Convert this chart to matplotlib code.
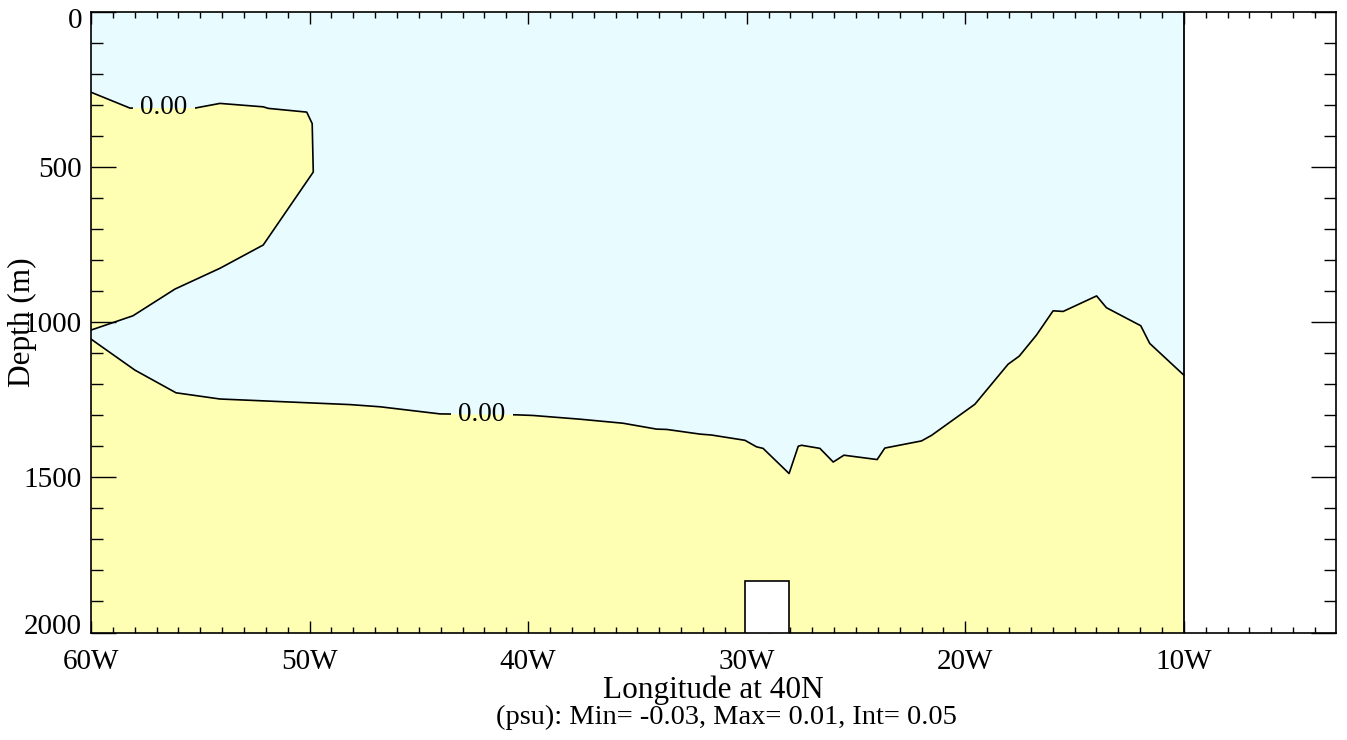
import numpy as np
import matplotlib.pyplot as plt
import matplotlib.transforms as mtrans
from matplotlib.patches import Rectangle

plt.rcParams['font.family'] = ['Liberation Serif', 'DejaVu Serif']

# 0.00 contour, upper-left bulge (from west edge, round, back to west edge)
upper_lon = [-60.0, -58.22, -55.24, -54.10, -52.12, -51.89, -50.13, -49.88, -49.83,
             -52.12, -54.10, -56.16, -58.08, -60.0]
upper_dep = [260, 311, 311, 296, 307, 312, 324, 361, 517,
             752, 827, 894, 980, 1026]

# 0.00 contour, lower line (west to east)
lower_lon = [-60.0, -57.99, -56.11, -54.10, -48.15, -46.78, -44.03, -40.53, -39.78,
             -37.63, -35.66, -34.12, -33.66, -32.14, -31.61, -30.08, -29.55, -29.25,
             -28.06, -27.64, -27.49, -26.65, -26.04, -25.55, -24.03, -23.68, -22.00,
             -21.54, -19.56, -18.04, -17.53, -16.74, -15.98, -15.52, -13.99, -13.54,
             -11.97, -11.56, -10.0]
lower_dep = [1055, 1155, 1228, 1248, 1266, 1273, 1296, 1299, 1301,
             1313, 1326, 1345, 1346, 1361, 1364, 1381, 1402, 1407,
             1488, 1400, 1397, 1407, 1451, 1429, 1443, 1406, 1383,
             1365, 1265, 1136, 1110, 1042, 964, 966, 916, 954,
             1012, 1069, 1171]

data_west, data_east = -60.0, -10.0
max_depth = 2000
topo_lon = [-30.06, -28.07]
topo_top = 1834

label_text = ['0.00', '0.00']
label_lon = [-56.66, -42.11]
label_dep = [310, 1298]
gap_lon = [(-58.10, -55.26), (-43.55, -40.68)]
gap_dep = [(280, 340), (1270, 1330)]

xticks = [-60, -50, -40, -30, -20, -10]
yticks = [0, 500, 1000, 1500, 2000]

yellow = '#ffffb3'
blue = '#e8fcff'

fig = plt.figure(figsize=(13.47, 7.40), dpi=100)
ax = fig.add_axes([91 / 1347, 1 - 632.5 / 740, (1335.7 - 91) / 1347, (632.5 - 11.5) / 740])


def draw_fills(clip=None):
    arts = []
    arts += ax.fill([data_west, data_east, data_east, data_west],
                    [0, 0, max_depth, max_depth], color=yellow, lw=0)
    bx = [data_west, data_east] + lower_lon[::-1] + upper_lon[::-1]
    by = [0, 0] + lower_dep[::-1] + upper_dep[::-1]
    arts += ax.fill(bx, by, color=blue, lw=0)
    if clip is not None:
        for a in arts:
            a.set_clip_path(clip)
            a.set_zorder(3)
    return arts


draw_fills()

# contour lines
ax.plot(upper_lon, upper_dep, color='k', lw=1.2, zorder=2)
ax.plot(lower_lon, lower_dep, color='k', lw=1.2, zorder=2)
ax.plot([data_east, data_east], [0, max_depth], color='k', lw=1.3, zorder=2)

# gaps for the contour labels
for (x0, x1), (d0, d1) in zip(gap_lon, gap_dep):
    r = Rectangle((x0, d0), x1 - x0, d1 - d0, transform=ax.transData)
    draw_fills(clip=r)

for t, lx, ly in zip(label_text, label_lon, label_dep):
    ax.text(lx, ly, t, ha='center', va='center', fontsize=19.5, zorder=5)

# bottom topography
ax.add_patch(Rectangle((topo_lon[0], topo_top), topo_lon[1] - topo_lon[0],
                       max_depth - topo_top, facecolor='white', edgecolor='k',
                       lw=1.2, zorder=4))

ax.set_xlim(-60, -3.05)
ax.set_ylim(max_depth, 0)
ax.set_xticks(xticks)
ax.set_xticklabels([f'{-v}W' for v in xticks])
ax.set_xticks(np.arange(-60, -3, 1), minor=True)
ax.set_yticks(yticks)
ax.set_yticks(np.arange(0, 2001, 100), minor=True)

ax.tick_params(axis='x', which='major', direction='in', length=8.6, width=1,
               top=True, labelsize=21, pad=12)
ax.tick_params(axis='x', which='minor', direction='in', length=4.3, width=1, top=True)
ax.tick_params(axis='y', which='major', direction='in', length=18, width=1,
               right=True, labelsize=21, pad=6.5)
ax.tick_params(axis='y', which='minor', direction='in', length=8.6, width=1, right=True)
for s in ax.spines.values():
    s.set_linewidth(1.2)

# keep the end labels inside like the original
ylabs = ax.get_yticklabels()
ylabs[0].set_transform(ylabs[0].get_transform() +
                       mtrans.ScaledTranslation(0, -6 / 100, fig.dpi_scale_trans))
ylabs[-1].set_transform(ylabs[-1].get_transform() +
                        mtrans.ScaledTranslation(0, 9 / 100, fig.dpi_scale_trans))

fig.text(713 / 1347, 1 - 690 / 740, 'Longitude at 40N', ha='center', va='center', fontsize=22.5)
fig.text(726 / 1347, 1 - 717 / 740, '(psu): Min= -0.03, Max= 0.01, Int= 0.05',
         ha='center', va='center', fontsize=20.5)
fig.text(22 / 1347, 1 - 322 / 740, 'Depth (m)', ha='center', va='center',
         rotation=90, fontsize=22.5)

fig.savefig('out.png', dpi=100)
